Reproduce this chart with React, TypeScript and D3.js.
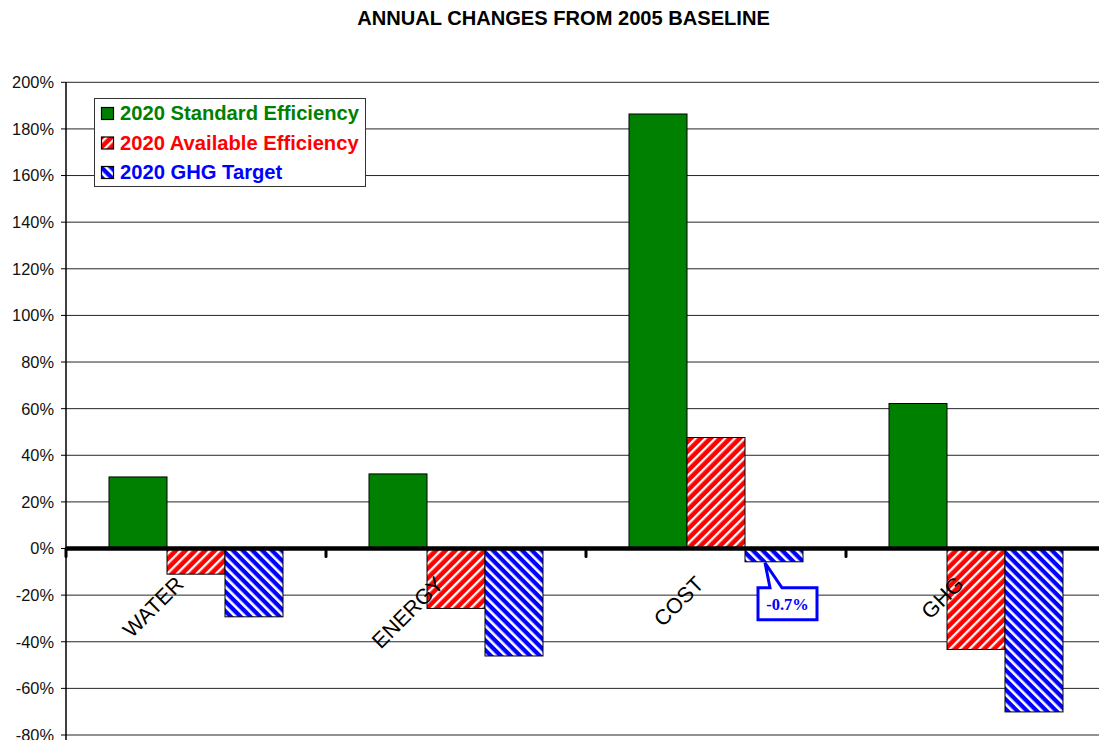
import React from "react";
import * as d3 from "d3";

const categories = ["WATER", "ENERGY", "COST", "GHG"];
const seriesNames = ["2020 Standard Efficiency", "2020 Available Efficiency", "2020 GHG Target"];
const standardEfficiency = [30.7, 32.0, 186.4, 62.2];
const availableEfficiency = [-11.0, -25.7, 47.6, -43.3];
const ghgTarget = [-29.3, -46.1, -5.7, -70.1];
const yTicks = [200, 180, 160, 140, 120, 100, 80, 60, 40, 20, 0, -20, -40, -60, -80];
const calloutLabel = "-0.7%";

const W = 1099;
const H = 740;
const FONT = "'Liberation Sans', Arial, sans-serif";

export default function App() {
  const seriesValues = [standardEfficiency, availableEfficiency, ghgTarget];
  const fills = ["#008000", "url(#pRed)", "url(#pBlue)"];
  const textColors = ["#008000", "#ff0000", "#0000ff"];

  const plotLeft = 66;
  const plotRight = 1106;
  const y = d3.scaleLinear().domain([-80, 200]).range([735, 82.3]);
  const x0 = d3.scaleBand<string>().domain(categories).range([plotLeft, plotRight]);
  const x1 = d3.scaleBand<string>().domain(seriesNames).range([43, 217]);
  const y0 = y(0);

  const costIdx = categories.indexOf("COST");
  const cbx = (x0("COST") as number) + (x1(seriesNames[2]) as number);
  const cby = y(ghgTarget[costIdx]);
  const tipX = cbx + 20;
  const tipY = cby + 1;
  const bx0 = cbx + 13;
  const bx1 = cbx + 72;
  const by0 = cby + 26;
  const by1 = cby + 58;
  const calloutPath = `M${bx0},${by0} L${bx0 + 12},${by0} L${tipX},${tipY} L${bx0 + 24},${by0} L${bx1},${by0} L${bx1},${by1} L${bx0},${by1} Z`;

  const boundaries = categories.map((c) => x0(c) as number);
  const P = 6.9;

  return (
    <svg width={W} height={H} style={{ position: "absolute", left: 0, top: 0, background: "#fff" }}>
      <defs>
        <pattern id="pRed" patternUnits="userSpaceOnUse" width={P} height={P} patternTransform="rotate(45)">
          <rect width={P} height={P} fill="#ff0000" />
          <rect x="0" width="2.3" height={P} fill="#ffffff" />
        </pattern>
        <pattern id="pBlue" patternUnits="userSpaceOnUse" width={P} height={P} patternTransform="rotate(-45)">
          <rect width={P} height={P} fill="#0000ff" />
          <rect x="0" width="2.6" height={P} fill="#ffffff" />
        </pattern>
      </defs>

      <text x={563.5} y={25} textAnchor="middle" fontFamily={FONT} fontWeight="bold" fontSize={20.1} fill="#000">
        ANNUAL CHANGES FROM 2005 BASELINE
      </text>

      {/* gridlines */}
      {yTicks.map((t) => (
        <line key={"g" + t} x1={plotLeft} x2={W} y1={y(t)} y2={y(t)} stroke="#000" strokeWidth={1} opacity={t === 0 ? 0 : 0.85} />
      ))}

      {/* y axis */}
      <line x1={plotLeft} x2={plotLeft} y1={y(200)} y2={H} stroke="#000" strokeWidth={1.5} />
      {yTicks.map((t) => (
        <g key={"t" + t}>
          <line x1={plotLeft - 5} x2={plotLeft} y1={y(t)} y2={y(t)} stroke="#000" strokeWidth={1} />
          <text x={54} y={y(t)} dy="0.36em" textAnchor="end" fontFamily={FONT} fontSize={16.4} fill="#111">
            {t}%
          </text>
        </g>
      ))}

      {/* bars */}
      {categories.map((c, i) => (
        <g key={c} transform={`translate(${x0(c)},0)`}>
          {seriesNames.map((s, j) => {
            const v = seriesValues[j][i];
            const top = v >= 0 ? y(v) : y0;
            const h = Math.abs(y(v) - y0);
            return (
              <rect key={s} x={x1(s)} y={top} width={x1.bandwidth()} height={h} fill={fills[j]} stroke="#000" strokeWidth={1} />
            );
          })}
        </g>
      ))}

      {/* zero axis */}
      <line x1={plotLeft} x2={plotRight} y1={y0} y2={y0} stroke="#000" strokeWidth={4.5} />
      {boundaries.map((b) => (
        <line key={"xt" + b} x1={b} x2={b} y1={y0} y2={y0 + 8} stroke="#000" strokeWidth={3} strokeLinecap="round" />
      ))}

      {/* category labels */}
      {categories.map((c) => {
        const cx = (x0(c) as number) + x0.bandwidth() / 2 - 11;
        const cy = y0 + 37;
        return (
          <text key={"l" + c} x={cx} y={cy} transform={`rotate(-45,${cx},${cy})`} textAnchor="end" fontFamily={FONT} fontSize={21.5} fill="#000">
            {c}
          </text>
        );
      })}

      {/* callout */}
      <path d={calloutPath} fill="#fff" stroke="#0000ff" strokeWidth={3} strokeLinejoin="miter" />
      <text x={(bx0 + bx1) / 2} y={(by0 + by1) / 2} dy="0.36em" textAnchor="middle" fontFamily="'Liberation Serif', 'Times New Roman', serif" fontWeight="bold" fontSize={16.5} fill="#0000ff">
        {calloutLabel}
      </text>

      {/* legend */}
      <g transform="translate(94.5,98.5)">
        <rect x={0} y={0} width={271} height={88} fill="#fff" stroke="#333" strokeWidth={1} />
        {seriesNames.map((s, j) => (
          <g key={"lg" + s} transform={`translate(0,${j * 29.5})`}>
            <rect x={7} y={9} width={12} height={12} fill={fills[j]} stroke="#000" strokeWidth={1.2} />
            <text x={25.5} y={21.5} fontFamily={FONT} fontWeight="bold" fontSize={20.2} fill={textColors[j]}>
              {s}
            </text>
          </g>
        ))}
      </g>
    </svg>
  );
}
